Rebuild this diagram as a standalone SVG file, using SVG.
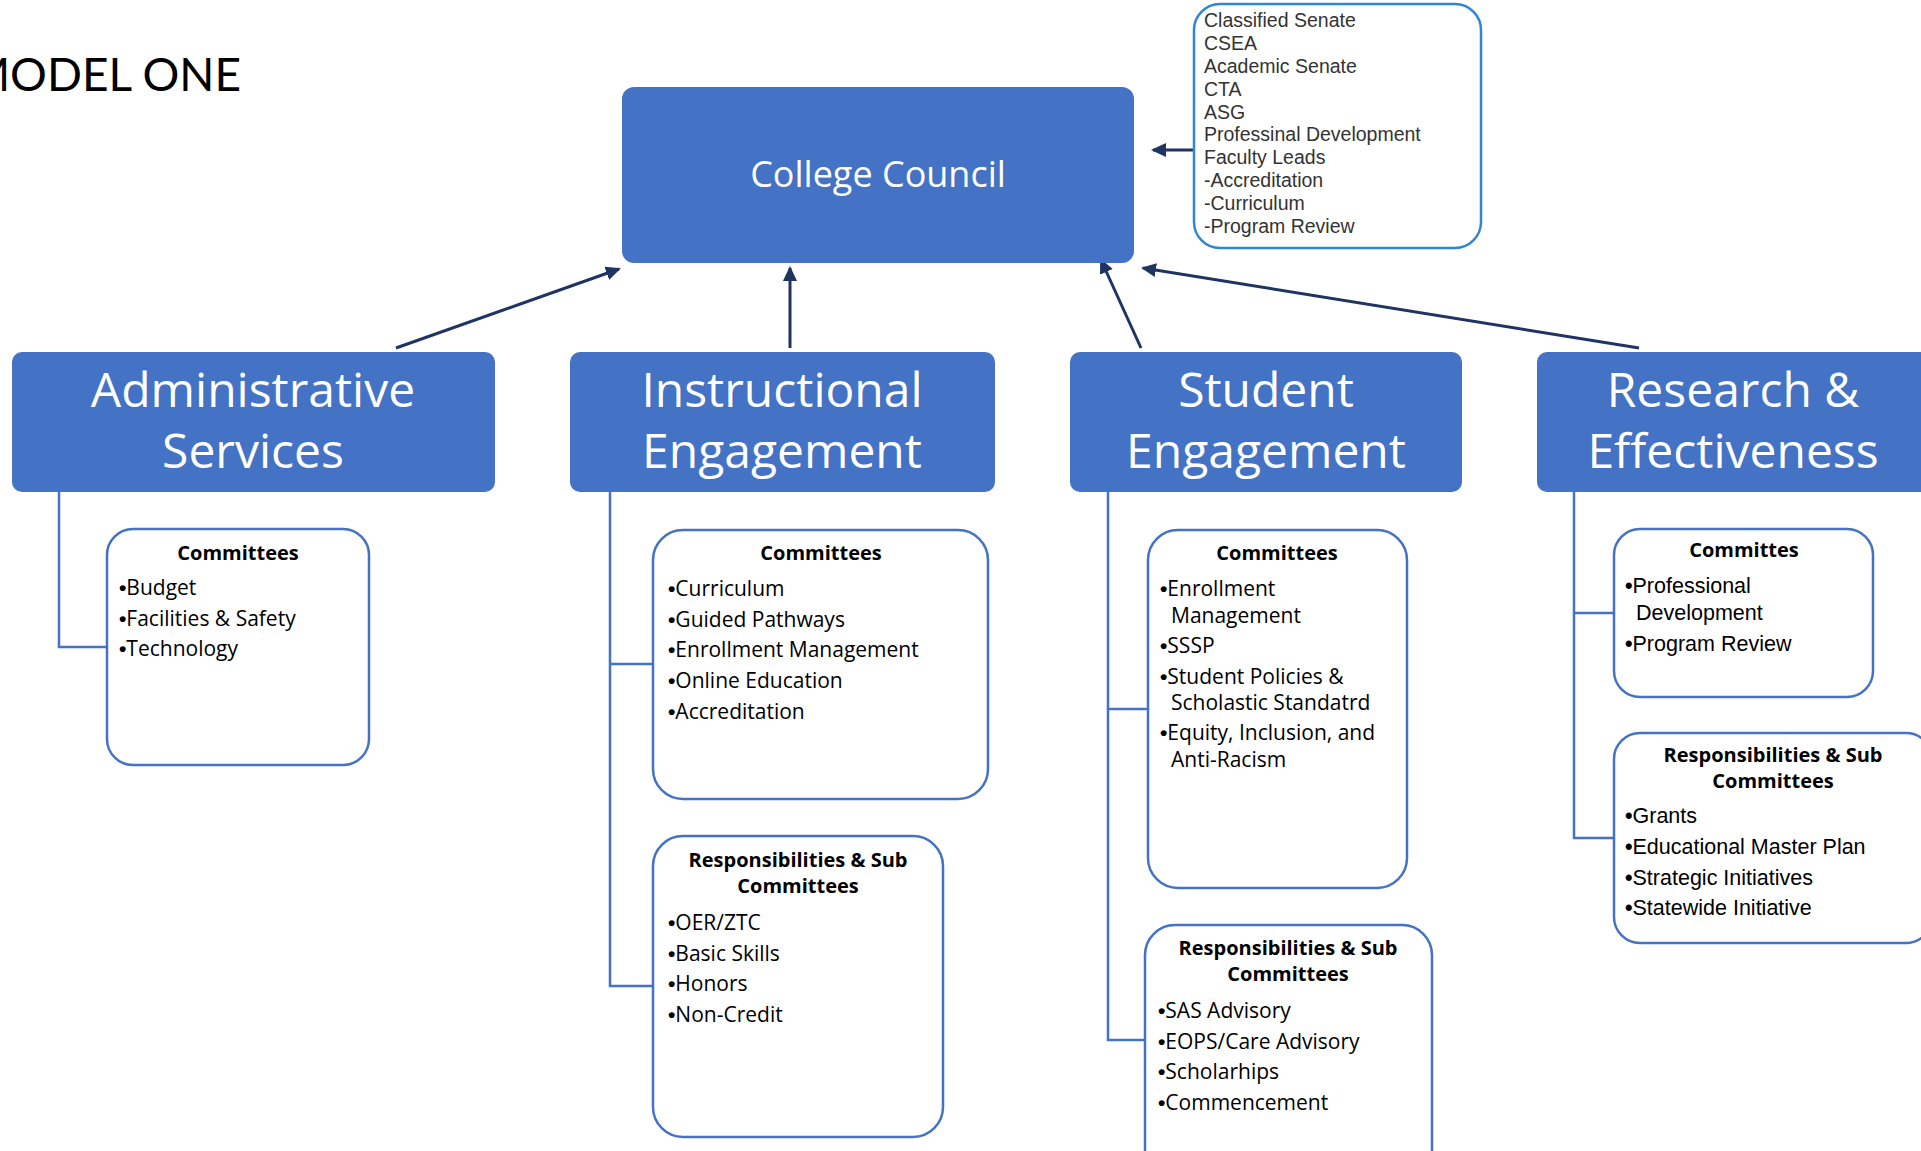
<svg xmlns="http://www.w3.org/2000/svg" width="1921" height="1151" viewBox="0 0 1921 1151">
<defs>
<style>
.hdr{fill:#4472C4;}
.hdrt{font-family:"Open Sans","Liberation Sans",sans-serif;font-size:48px;fill:#FFFFFF;text-anchor:middle;}
.box{fill:#FFFFFF;stroke:#4472C4;stroke-width:2.5;}
.ttl{font-family:"Open Sans","Liberation Sans",sans-serif;font-size:20px;font-weight:bold;fill:#000;text-anchor:middle;}
.itm{font-family:"Open Sans","Liberation Sans",sans-serif;font-size:21px;fill:#000;}
.itm2{font-family:"Liberation Sans",Arial,sans-serif;font-size:21.5px;fill:#000;}
.bul{font-family:"Liberation Sans",Arial,sans-serif;font-weight:bold;}
.side{font-family:"Liberation Sans",Arial,sans-serif;font-size:19.5px;fill:#333333;}
.link{fill:none;stroke:#4472C4;stroke-width:2.5;}
.arr{fill:none;stroke:#1F3461;stroke-width:3;marker-end:url(#ah);}
</style>
<marker id="ah" markerUnits="userSpaceOnUse" markerWidth="16" markerHeight="14" refX="13" refY="7" orient="auto">
<path d="M0,0 L15,7 L0,14 z" fill="#1F3461"/>
</marker>
</defs>
<rect width="1921" height="1151" fill="#FFFFFF"/>

<text x="241" y="91" font-family="Lato,'Liberation Sans',sans-serif" font-size="46" fill="#000" text-anchor="end">MODEL ONE</text>

<g id="connectors">
<line class="arr" x1="396" y1="348" x2="619" y2="269"/>
<line class="arr" x1="790" y1="348" x2="790" y2="268"/>
<line class="arr" x1="1141" y1="348" x2="1101" y2="260"/>
<line class="arr" x1="1639" y1="348" x2="1143" y2="268"/>
<line class="arr" x1="1196" y1="150" x2="1153" y2="150"/>
<polyline class="link" points="59,492 59,647 107,647"/>
<polyline class="link" points="610,492 610,986 653,986"/>
<line class="link" x1="610" y1="664" x2="653" y2="664"/>
<polyline class="link" points="1108,492 1108,1040 1145,1040"/>
<line class="link" x1="1108" y1="709" x2="1148" y2="709"/>
<polyline class="link" points="1574,492 1574,838 1614,838"/>
<line class="link" x1="1574" y1="613" x2="1614" y2="613"/>
</g>

<g id="college-council">
<rect class="hdr" x="622" y="87" width="512" height="176" rx="12"/>
<text x="878" y="187" font-family="'Open Sans','Liberation Sans',sans-serif" font-size="36" fill="#FFFFFF" text-anchor="middle">College Council</text>
</g>

<g id="groups-box">
<rect x="1194" y="4" width="287" height="244" rx="26" fill="#FFFFFF" stroke="#2F86D2" stroke-width="2.5"/>
<text class="side" x="1204" y="27">Classified Senate</text>
<text class="side" x="1204" y="50">CSEA</text>
<text class="side" x="1204" y="73">Academic Senate</text>
<text class="side" x="1204" y="96">CTA</text>
<text class="side" x="1204" y="119">ASG</text>
<text class="side" x="1204" y="141">Professinal Development</text>
<text class="side" x="1204" y="164">Faculty Leads</text>
<text class="side" x="1204" y="187">-Accreditation</text>
<text class="side" x="1204" y="210">-Curriculum</text>
<text class="side" x="1204" y="233">-Program Review</text>
</g>

<g id="administrative-services">
<rect class="hdr" x="12" y="352" width="483" height="140" rx="10"/>
<text class="hdrt" x="253" y="407">Administrative</text>
<text class="hdrt" x="253" y="468">Services</text>
</g>

<g id="instructional-engagement">
<rect class="hdr" x="570" y="352" width="425" height="140" rx="10"/>
<text class="hdrt" x="782" y="407">Instructional</text>
<text class="hdrt" x="782" y="468">Engagement</text>
</g>

<g id="student-engagement">
<rect class="hdr" x="1070" y="352" width="392" height="140" rx="10"/>
<text class="hdrt" x="1266" y="407">Student</text>
<text class="hdrt" x="1266" y="468">Engagement</text>
</g>

<g id="research-effectiveness">
<rect class="hdr" x="1537" y="352" width="400" height="140" rx="10"/>
<text class="hdrt" x="1733" y="407">Research &amp;</text>
<text class="hdrt" x="1733" y="468">Effectiveness</text>
</g>

<g id="admin-committees">
<rect class="box" x="107" y="529" width="262" height="236" rx="26"/>
<text class="ttl" x="238" y="560">Committees</text>
<text class="itm" x="119" y="595"><tspan class="bul">•</tspan>Budget</text>
<text class="itm" x="119" y="626"><tspan class="bul">•</tspan>Facilities &amp; Safety</text>
<text class="itm" x="119" y="656"><tspan class="bul">•</tspan>Technology</text>
</g>

<g id="instr-committees">
<rect class="box" x="653" y="530" width="335" height="269" rx="30"/>
<text class="ttl" x="821" y="560">Committees</text>
<text class="itm" x="668" y="596"><tspan class="bul">•</tspan>Curriculum</text>
<text class="itm" x="668" y="627"><tspan class="bul">•</tspan>Guided Pathways</text>
<text class="itm" x="668" y="657"><tspan class="bul">•</tspan>Enrollment Management</text>
<text class="itm" x="668" y="688"><tspan class="bul">•</tspan>Online Education</text>
<text class="itm" x="668" y="719"><tspan class="bul">•</tspan>Accreditation</text>
</g>

<g id="instr-responsibilities">
<rect class="box" x="653" y="836" width="290" height="301" rx="30"/>
<text class="ttl" x="798" y="867">Responsibilities &amp; Sub</text>
<text class="ttl" x="798" y="893">Committees</text>
<text class="itm" x="668" y="930"><tspan class="bul">•</tspan>OER/ZTC</text>
<text class="itm" x="668" y="961"><tspan class="bul">•</tspan>Basic Skills</text>
<text class="itm" x="668" y="991"><tspan class="bul">•</tspan>Honors</text>
<text class="itm" x="668" y="1022"><tspan class="bul">•</tspan>Non-Credit</text>
</g>

<g id="student-committees">
<rect class="box" x="1148" y="530" width="259" height="358" rx="30"/>
<text class="ttl" x="1277" y="560">Committees</text>
<text class="itm" x="1160" y="596"><tspan class="bul">•</tspan>Enrollment</text>
<text class="itm" x="1171" y="623">Management</text>
<text class="itm" x="1160" y="653"><tspan class="bul">•</tspan>SSSP</text>
<text class="itm" x="1160" y="684"><tspan class="bul">•</tspan>Student Policies &amp;</text>
<text class="itm" x="1171" y="710">Scholastic Standatrd</text>
<text class="itm" x="1160" y="740"><tspan class="bul">•</tspan>Equity, Inclusion, and</text>
<text class="itm" x="1171" y="767">Anti-Racism</text>
</g>

<g id="student-responsibilities">
<rect class="box" x="1145" y="925" width="287" height="260" rx="30"/>
<text class="ttl" x="1288" y="955">Responsibilities &amp; Sub</text>
<text class="ttl" x="1288" y="981">Committees</text>
<text class="itm" x="1158" y="1018"><tspan class="bul">•</tspan>SAS Advisory</text>
<text class="itm" x="1158" y="1049"><tspan class="bul">•</tspan>EOPS/Care Advisory</text>
<text class="itm" x="1158" y="1079"><tspan class="bul">•</tspan>Scholarhips</text>
<text class="itm" x="1158" y="1110"><tspan class="bul">•</tspan>Commencement</text>
</g>

<g id="research-committes">
<rect class="box" x="1614" y="529" width="259" height="168" rx="26"/>
<text class="ttl" x="1744" y="557">Committes</text>
<text class="itm2" x="1625" y="593"><tspan class="bul">•</tspan>Professional</text>
<text class="itm2" x="1636" y="620">Development</text>
<text class="itm2" x="1625" y="651"><tspan class="bul">•</tspan>Program Review</text>
</g>

<g id="research-responsibilities">
<rect class="box" x="1614" y="733" width="318" height="210" rx="26"/>
<text class="ttl" x="1773" y="762">Responsibilities &amp; Sub</text>
<text class="ttl" x="1773" y="788">Committees</text>
<text class="itm2" x="1625" y="823"><tspan class="bul">•</tspan>Grants</text>
<text class="itm2" x="1625" y="854"><tspan class="bul">•</tspan>Educational Master Plan</text>
<text class="itm2" x="1625" y="885"><tspan class="bul">•</tspan>Strategic Initiatives</text>
<text class="itm2" x="1625" y="915"><tspan class="bul">•</tspan>Statewide Initiative</text>
</g>
</svg>
